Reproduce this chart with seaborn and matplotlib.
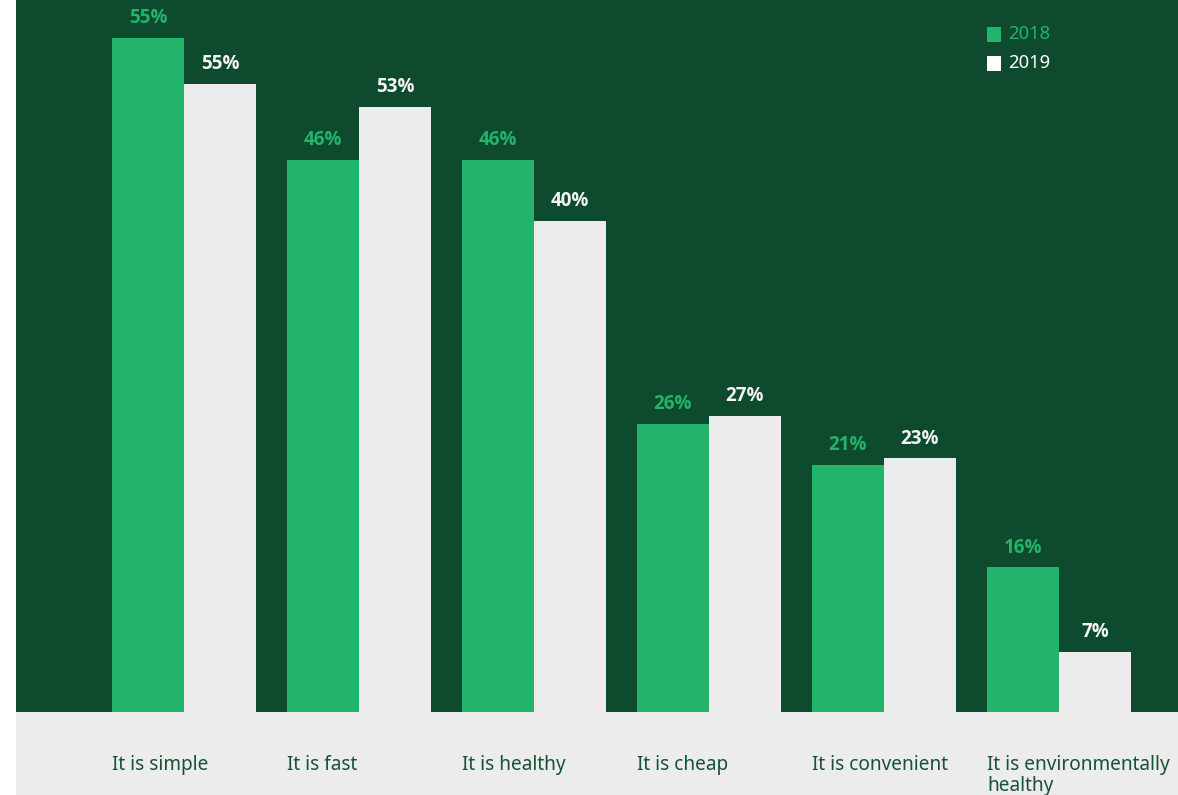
import matplotlib
matplotlib.use("Agg")
import matplotlib.pyplot as plt
from matplotlib.patches import Rectangle
import seaborn as sns
import pandas as pd

# ---- data ----
categories = ["It is simple", "It is fast", "It is healthy", "It is cheap",
              "It is convenient", "It is environmentally\nhealthy"]
years = ["2018", "2019"]
labels_2018 = [55, 46, 46, 26, 21, 16]          # printed values (%)
labels_2019 = [55, 53, 40, 27, 23, 7]
bars_2018 = [55.0, 45.1, 45.1, 23.5, 20.2, 11.8]  # drawn bar heights (%)
bars_2019 = [51.3, 49.4, 40.1, 24.2, 20.7, 4.9]

DARK = "#0e4a2e"
GREEN = "#21b46a"
LIGHT = "#ececec"
TEXT_DARK = "#1a5236"

df = pd.DataFrame({
    "category": categories * 2,
    "year": [years[0]] * 6 + [years[1]] * 6,
    "height": bars_2018 + bars_2019,
})

sns.set_theme(style="white")
plt.rcParams["font.family"] = ["Noto Sans", "DejaVu Sans"]

W, H = 1178, 795
fig = plt.figure(figsize=(W / 100, H / 100), dpi=100, facecolor="white")
left_px, bottom_px = 16, 83
ax = fig.add_axes([left_px / W, bottom_px / H, 1 - left_px / W, 1 - bottom_px / H])
ax.set_facecolor(DARK)

# grey band under the plot
fig.patches.append(Rectangle((left_px / W, 0), 1 - left_px / W, bottom_px / H,
                             transform=fig.transFigure, facecolor=LIGHT,
                             edgecolor="none", zorder=0))

sns.barplot(data=df, x="category", y="height", hue="year",
            palette={"2018": GREEN, "2019": LIGHT}, width=0.823,
            saturation=1, ax=ax, legend=False, edgecolor="none", linewidth=0)

# axis limits: 175 px per category, 12.25 px per %
ax.set_xlim(-(184 - left_px) / 175, (W - 184) / 175)
ax.set_ylim(0, (H - bottom_px) / 12.25)

for s in ax.spines.values():
    s.set_visible(False)
ax.set_xticks([])
ax.set_yticks([])
ax.set_xlabel("")
ax.set_ylabel("")

# value labels
bw = 0.823 / 2
vfont = dict(family=["Open Sans", "DejaVu Sans"], fontweight="bold", fontsize=13.5)
for i in range(len(categories)):
    ax.text(i - bw / 2, bars_2018[i] + 1.62, f"{labels_2018[i]}%", ha="center",
            va="center", color=GREEN, **vfont)
    ax.text(i + bw / 2, bars_2019[i] + 1.62, f"{labels_2019[i]}%", ha="center",
            va="center", color="#f4f4f4", **vfont)

# category labels in the grey band
for i, cat in enumerate(categories):
    xpix = 112 + 175 * i
    fig.text(xpix / W, 1 - 755 / H, cat, ha="left", va="top",
             color=TEXT_DARK, fontsize=13.7, linespacing=1.08)

# legend
for j, (yr, col, tcol) in enumerate([("2018", GREEN, GREEN), ("2019", "white", "white")]):
    ypix = 34 + 29 * j
    fig.patches.append(Rectangle((987 / W, 1 - (ypix + 7.5) / H), 14 / W, 15 / H,
                                 transform=fig.transFigure, facecolor=col,
                                 edgecolor="none", zorder=5))
    fig.text(1008 / W, 1 - ypix / H, yr, ha="left", va="center",
             color=tcol, fontsize=13.3)

fig.savefig("out.png", dpi=100, facecolor=fig.get_facecolor())
